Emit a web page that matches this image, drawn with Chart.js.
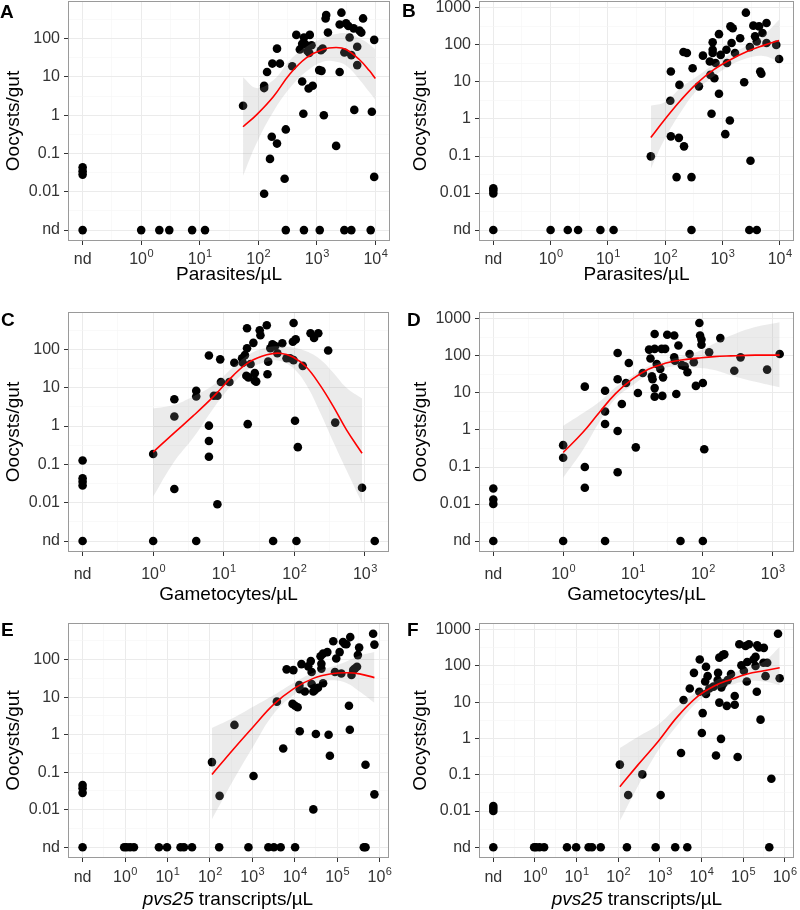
<!DOCTYPE html>
<html>
<head>
<meta charset="utf-8">
<script src="https://cdn.jsdelivr.net/npm/chart.js@4.4.0/dist/chart.umd.min.js"></script>
<style>
  body { margin: 0; width: 800px; height: 910px; position: relative; background: #fff; overflow: hidden;
         font-family: "Liberation Sans", Arial, sans-serif; }
  .panel { position: absolute; }
  .tag { position: absolute; font-weight: bold; font-size: 19px; line-height: 19px; color: #000; }
  .xtitle { position: absolute; width: 400px; text-align: center; font-size: 19px; line-height: 22px; color: #000; }
</style>
</head>
<body>
<canvas id="cA" class="panel" width="400" height="300" style="left:0;top:0"></canvas>
<canvas id="cB" class="panel" width="400" height="300" style="left:400px;top:0"></canvas>
<canvas id="cC" class="panel" width="400" height="310" style="left:0;top:300px"></canvas>
<canvas id="cD" class="panel" width="400" height="310" style="left:400px;top:300px"></canvas>
<canvas id="cE" class="panel" width="400" height="300" style="left:0;top:610px"></canvas>
<canvas id="cF" class="panel" width="400" height="300" style="left:400px;top:610px"></canvas>

<div class="tag" style="left:0;top:2px">A</div>
<div class="tag" style="left:402px;top:1px">B</div>
<div class="tag" style="left:1px;top:310px">C</div>
<div class="tag" style="left:407px;top:310px">D</div>
<div class="tag" style="left:1px;top:620px">E</div>
<div class="tag" style="left:407px;top:620px">F</div>

<div class="xtitle" style="left:28px;top:888px"><i>pvs25</i> transcripts/µL</div>
<div class="xtitle" style="left:437px;top:888px"><i>pvs25</i> transcripts/µL</div>

<script>
// all values are log10; null = not detected ("nd")
const ND_X = -1;
const ND_Y = -3;

// ---------------- A: parasites vs oocysts (set 1) ----------------
const aX = [1.74, 2.10, 2.10, 2.10, 2.15, 2.20, 2.23, 2.24, 2.32, 2.32, 2.37, 2.45, 2.47, 2.58, 2.65,
            2.71, 2.75, 2.78, 2.80, 2.84, 2.88, 2.91, 2.87, 2.75, 2.77, 2.86, 2.93, 3.07, 3.10, 3.04,
            3.08, 3.12, 3.15, 3.16, 3.19, 3.33, 3.39, 3.42, 3.39, 3.47, 3.50, 3.54, 3.56, 3.59, 3.64,
            3.63, 3.69, 3.69, 3.73, 3.76, 3.79, 3.94, 3.98, 3.98];
const aY = [0.25, -2.05, 0.77, 0.71, 1.13, -1.14, -0.56, 1.35, 1.74, -0.74, 1.35, -1.66, -0.37, 1.28, 2.10,
            1.72, 1.87, 2.03, 1.86, 1.68, 2.10, 1.83, 1.63, 0.88, 0.04, 0.70, 0.77, 1.70, 1.74, 1.18,
            1.16, 0.00, 2.53, 2.62, 2.16, -0.80, 1.13, 2.68, 2.37, 1.64, 2.40, 2.33, 2.03, 1.57, 0.14,
            2.27, 1.79, 1.31, 2.21, 2.16, 2.53, 0.09, -1.61, 1.97];
const aNdRow = [null, 0, 0.31, 0.48, 0.87, 1.09, 2.47, 2.78, 3.05, 3.47, 3.59, 3.92];
const aNdCol = [-1.36, -1.46, -1.55];
const aFitX = [1.74, 1.97, 2.26, 2.54, 2.82, 3.10, 3.33, 3.50, 3.73, 3.90, 4.00];
const aFitY = [-0.30, 0.01, 0.49, 1.08, 1.50, 1.72, 1.77, 1.72, 1.45, 1.16, 0.96];
const aBandHi = [0.99, 0.71, 0.92, 1.44, 1.79, 2.01, 2.12, 2.14, 2.01, 1.85, 1.72];
const aBandLo = [-1.58, -0.73, 0.10, 0.71, 1.14, 1.40, 1.40, 1.30, 0.93, 0.60, 0.40];

// ---------------- B: parasites vs oocysts (set 2) ----------------
const bX = [1.75, 2.10, 2.09, 2.10, 2.24, 2.25, 2.32, 2.38, 2.33, 2.20, 2.46, 2.48, 2.59, 2.66, 2.78,
            2.79, 2.81, 2.83, 2.83, 2.83, 2.86, 2.88, 2.94, 2.94, 2.97, 3.07, 3.08, 3.13, 3.05, 3.14,
            3.16, 3.18, 3.22, 3.31, 3.38, 3.41, 3.48, 3.54, 3.57, 3.60, 3.64, 3.70, 3.66, 3.68, 3.77,
            3.77, 3.94, 3.99, 3.49];
const bY = [-1.01, 1.28, 0.49, -0.47, -0.51, 0.92, 1.81, 1.78, -0.74, -1.57, -1.57, 1.37, 0.88, 1.71, 1.55,
            1.19, 0.14, 2.07, 1.87, 1.78, 1.10, 1.51, 2.29, 0.68, 1.73, 1.87, 1.51, -0.04, -0.41, 2.50,
            2.05, 2.45, 1.78, 2.18, 0.99, 2.87, 1.94, 2.52, 2.23, 2.09, 2.50, 2.32, 1.28, 1.22, 2.59,
            2.05, 2.00, 1.62, -1.13];
const bNdRow = [null, 0, 0.30, 0.48, 0.87, 1.10, 2.46, 3.47, 3.60];
const bNdCol = [-1.87, -1.93, -2.01];
const bFitX = [1.75, 1.99, 2.28, 2.56, 2.85, 3.14, 3.43, 3.71, 3.99];
const bFitY = [-0.50, -0.02, 0.52, 0.97, 1.33, 1.60, 1.82, 1.98, 2.12];
const bBandHi = [0.36, 0.45, 0.85, 1.15, 1.48, 1.75, 1.98, 2.25, 2.68];
const bBandLo = [-1.35, -0.55, 0.20, 0.78, 1.15, 1.45, 1.64, 1.70, 1.55];

// ---------------- C: gametocytes vs oocysts (set 1) ----------------
const cX = [0, 0.30, 0.30, 0.30, 0.61, 0.61, 0.79, 0.79, 0.79, 0.79, 0.86, 0.91, 0.95, 0.96, 0.91,
            1.08, 1.15, 1.26, 1.27, 1.30, 1.32, 1.33, 1.33, 1.34, 1.35, 1.38, 1.42, 1.44, 1.44, 1.46,
            1.51, 1.52, 1.61, 1.62, 1.63, 1.66, 1.69, 1.73, 1.76, 1.83, 1.89, 1.94, 1.98, 1.99, 1.99,
            2.01, 2.02, 2.05, 2.12, 2.23, 2.28, 2.34, 2.48, 2.58, 2.96];
const cY = [-0.73, 0.70, 0.25, -1.64, 0.92, 0.77, 1.84, 0.01, -0.39, -0.80, 0.79, 0.79, 1.74, 1.15, -2.04,
            1.15, 1.65, 1.77, 1.65, 1.85, 1.31, 2.55, 2.03, 0.05, 1.27, 1.62, 2.17, 1.38, 1.18, 1.16,
            2.50, 2.37, 2.63, 1.35, 1.68, 2.03, 2.13, 2.09, 1.90, 2.16, 1.77, 1.77, 2.20, 2.69, 1.72,
            0.14, 2.26, -0.55, 1.57, 2.42, 2.30, 2.42, 1.97, 0.09, -1.61];
const cNdRow = [null, 0, 0.61, 1.70, 2.03, 3.14];
const cNdCol = [-0.90, -1.36, -1.45, -1.55];
const cFitX = [0, 0.29, 0.57, 0.86, 1.14, 1.37, 1.61, 1.80, 1.98, 2.17, 2.36, 2.55, 2.74, 2.96];
const cFitY = [-0.68, -0.19, 0.27, 0.78, 1.33, 1.68, 1.86, 1.90, 1.80, 1.54, 1.08, 0.52, -0.10, -0.71];
const cBandHi = [0.46, 0.55, 0.78, 1.08, 1.55, 1.88, 2.05, 2.08, 2.05, 1.95, 1.75, 1.40, 1.00, 0.72];
const cBandLo = [-1.84, -0.95, -0.30, 0.48, 1.12, 1.50, 1.68, 1.70, 1.52, 1.08, 0.38, -0.40, -1.15, -2.01];

// ---------------- D: gametocytes vs oocysts (set 2) ----------------
const dX = [0, 0, 0.31, 0.31, 0.31, 0.60, 0.60, 0.60, 0.78, 0.78, 0.78, 0.78, 0.84, 0.90, 0.94,
            1.04, 1.07, 1.14, 1.23, 1.25, 1.27, 1.28, 1.31, 1.31, 1.31, 1.31, 1.34, 1.39, 1.41, 1.42,
            1.43, 1.46, 1.49, 1.59, 1.59, 1.60, 1.62, 1.65, 1.70, 1.74, 1.78, 1.81, 1.87, 1.90, 1.95,
            1.96, 1.98, 1.98, 2.00, 2.02, 2.09, 2.25, 2.45, 2.54, 2.92, 3.10];
const dY = [-0.41, -0.75, 1.17, -1.00, -1.56, 1.06, 0.50, 0.16, 2.08, 1.37, -0.03, -1.14, 0.70, 1.27, 1.81,
            -0.47, 1.00, 1.54, 2.17, 1.93, 1.45, 1.37, 2.19, 2.59, 1.13, 0.90, 1.78, 1.65, 2.19, 0.92,
            1.42, 2.19, 2.57, 2.55, 1.96, 1.87, 0.97, 2.28, 1.75, 1.72, 1.56, 2.05, 1.83, 1.19, 2.89,
            2.55, 2.44, 2.30, 1.27, -0.52, 2.10, 2.48, 1.60, 1.96, 1.63, 2.05];
const dNdRow = [null, 0, 0.60, 1.68, 2.00];
const dNdCol = [-1.58, -1.88, -2.00];
const dFitX = [0, 0.28, 0.52, 0.75, 0.99, 1.22, 1.46, 1.69, 1.93, 2.16, 2.40, 2.75, 3.10];
const dFitY = [-0.61, -0.07, 0.48, 0.98, 1.37, 1.64, 1.80, 1.89, 1.94, 1.98, 2.00, 2.02, 2.02];
const dBandHi = [0.11, 0.45, 0.76, 1.15, 1.46, 1.72, 1.87, 1.98, 2.12, 2.33, 2.55, 2.78, 2.91];
const dBandLo = [-1.29, -0.55, 0.22, 0.85, 1.20, 1.50, 1.68, 1.72, 1.68, 1.62, 1.48, 1.30, 1.15];

// ---------------- E: pvs25 vs oocysts (set 1) ----------------
const eX = [2.05, 2.23, 2.58, 3.03, 3.58, 3.73, 3.81, 3.97, 3.95, 4.01, 4.07, 4.11, 4.12, 4.12, 4.16,
            4.24, 4.32, 4.38, 4.40, 4.40, 4.44, 4.44, 4.48, 4.50, 4.55, 4.61, 4.63, 4.63, 4.67, 4.67,
            4.77, 4.80, 4.83, 4.91, 4.95, 4.98, 5.06, 5.10, 5.14, 5.18, 5.22, 5.28, 5.30, 5.31, 5.34,
            5.38, 5.42, 5.47, 5.49, 5.52, 5.67, 5.85, 5.88, 5.88];
const eY = [-0.73, -1.63, 0.26, -1.10, 0.88, -0.37, 1.74, 1.72, 0.82, 0.77, 0.73, 1.32, 0.09, 1.21, 1.88,
            1.15, 1.82, 1.96, 1.67, 1.35, 1.15, -1.99, 1.19, 0.02, 1.25, 2.09, 1.89, 1.76, 2.16, 1.37,
            2.20, 0.00, -0.56, 2.49, 1.67, 2.03, 2.20, 1.63, 2.47, 2.42, 2.41, 0.77, 0.13, 2.60, 1.59,
            1.72, 1.76, 1.81, 2.12, 2.32, -0.80, 2.69, 2.40, -1.59];
const eNdRow = [null, -0.02, 0.04, 0.12, 0.21, 0.80, 0.99, 1.31, 1.39, 1.58, 2.22, 2.91, 3.38, 3.51, 3.67,
                4.01, 5.63, 5.67];
const eNdCol = [-1.34, -1.43, -1.55];
const eFitX = [2.05, 2.56, 3.03, 3.50, 3.97, 4.44, 4.91, 5.22, 5.53, 5.88];
const eFitY = [-1.06, -0.38, 0.22, 0.80, 1.22, 1.50, 1.63, 1.65, 1.62, 1.52];
const eBandHi = [0.18, 0.45, 0.75, 1.05, 1.38, 1.65, 1.82, 1.95, 2.10, 2.20];
const eBandLo = [-2.25, -1.20, -0.30, 0.55, 1.05, 1.35, 1.45, 1.38, 1.15, 0.85];

// ---------------- F: pvs25 vs oocysts (set 2) ----------------
const fX = [2.04, 2.24, 2.58, 3.02, 3.51, 3.57, 3.72, 3.82, 3.95, 3.96, 4.01, 4.03, 4.11, 4.09, 4.15,
            4.11, 4.19, 4.29, 4.35, 4.39, 4.40, 4.43, 4.47, 4.48, 4.53, 4.61, 4.63, 4.43, 4.51, 4.55,
            4.71, 4.80, 4.80, 4.87, 4.91, 4.96, 5.02, 5.06, 5.09, 5.10, 5.14, 5.25, 5.30, 5.30, 5.33,
            5.34, 5.38, 5.42, 5.49, 5.50, 5.54, 5.58, 5.68, 5.84, 5.88];
const fY = [-0.72, -1.56, -0.99, -1.56, -0.40, 1.06, 1.38, 1.81, 1.29, 2.18, 0.15, 0.70, 1.98, 1.57, 1.72,
            1.23, 1.38, 1.43, -0.47, 1.61, 1.81, 0.99, -0.01, 1.41, 1.52, 0.90, 1.61, 2.23, 2.30, 2.32,
            1.78, 1.17, 0.93, -0.51, 2.60, 2.02, 1.87, 2.55, 1.57, 2.11, 2.60, 2.18, 2.25, 2.00, 1.29,
            2.57, 2.51, 0.52, 2.09, 2.50, 1.72, 2.09, -1.11, 2.89, 1.66];
const fNdRow = [null, -0.02, 0.03, 0.11, 0.22, 0.77, 0.99, 1.29, 1.37, 1.58, 2.21, 2.90, 3.37, 3.66, 5.63];
const fNdCol = [-1.86, -1.93, -2.00];
const fFitX = [2.04, 2.48, 2.96, 3.43, 3.91, 4.31, 4.71, 5.10, 5.50, 5.88];
const fFitY = [-1.33, -0.72, -0.08, 0.61, 1.16, 1.45, 1.63, 1.78, 1.87, 1.95];
const fBandHi = [-0.26, 0.05, 0.38, 0.88, 1.30, 1.58, 1.78, 1.95, 2.12, 2.52];
const fBandLo = [-2.27, -1.30, -0.33, 0.38, 1.02, 1.32, 1.48, 1.58, 1.57, 1.47];

// ---------------- AXES ----------------
const Y_LABELS = { '-3': 'nd', '-2': '0.01', '-1': '0.1', '0': '1', '1': '10', '2': '100', '3': '1000' };
const FONT = '"Liberation Sans", Arial, sans-serif';
const TICK_SIZE = 16;

const panels = [
    { canvas: 'cA', xTitle: 'Parasites/µL', x: aX, y: aY, ndRow: aNdRow, ndCol: aNdCol,
      fitX: aFitX, fitY: aFitY, hi: aBandHi, lo: aBandLo,
      xMin: -1.25, xMax: 4.25, yMin: -3.285, yMax: 2.985,
      area: { left: 68, right: 390, top: 1, bottom: 241 }, yPad: 2.6, xPad: 14, labelBase: 23 },
    { canvas: 'cB', xTitle: 'Parasites/µL', x: bX, y: bY, ndRow: bNdRow, ndCol: bNdCol,
      fitX: bFitX, fitY: bFitY, hi: bBandHi, lo: bBandLo,
      xMin: -1.25, xMax: 4.25, yMin: -3.295, yMax: 3.185,
      area: { left: 79, right: 394, top: 1, bottom: 241 }, yPad: 9.6, xPad: 14, labelBase: 23 },
    { canvas: 'cC', xTitle: 'Gametocytes/µL', x: cX, y: cY, ndRow: cNdRow, ndCol: cNdCol,
      fitX: cFitX, fitY: cFitY, hi: cBandHi, lo: cBandLo,
      xMin: -1.207, xMax: 3.342, yMin: -3.285, yMax: 2.975,
      area: { left: 68, right: 389, top: 12, bottom: 252 }, yPad: 2.6, xPad: 4, labelBase: 27 },
    { canvas: 'cD', xTitle: 'Gametocytes/µL', x: dX, y: dY, ndRow: dNdRow, ndCol: dNdCol,
      fitX: dFitX, fitY: dFitY, hi: dBandHi, lo: dBandLo,
      xMin: -1.205, xMax: 3.305, yMin: -3.295, yMax: 3.185,
      area: { left: 79, right: 394, top: 12, bottom: 252 }, yPad: 9.6, xPad: 4, labelBase: 27 },
    { canvas: 'cE', xTitle: '', x: eX, y: eY, ndRow: eNdRow, ndCol: eNdCol,
      fitX: eFitX, fitY: eFitY, hi: eBandHi, lo: eBandLo,
      xMin: -1.344, xMax: 6.224, yMin: -3.285, yMax: 2.975,
      area: { left: 68, right: 389, top: 13, bottom: 248 }, yPad: 2.6, xPad: 0, labelBase: 24 },
    { canvas: 'cF', xTitle: '', x: fX, y: fY, ndRow: fNdRow, ndCol: fNdCol,
      fitX: fFitX, fitY: fFitY, hi: fBandHi, lo: fBandLo,
      xMin: -1.344, xMax: 6.224, yMin: -3.295, yMax: 3.185,
      area: { left: 79, right: 394, top: 13, bottom: 248 }, yPad: 9.6, xPad: 0, labelBase: 24 }
];

// panel frame drawn over the data, like the ggplot border
const panelBorder = {
    id: 'panelBorder',
    afterDatasetsDraw(chart) {
        const { ctx, chartArea: a } = chart;
        ctx.save();
        ctx.strokeStyle = '#9a9a9a';
        ctx.lineWidth = 1;
        ctx.strokeRect(a.left + 0.5, a.top + 0.5, a.width - 1, a.height - 1);
        ctx.restore();
    }
};

// x tick labels "10^n" with a real raised exponent, and "nd"
const powerLabels = {
    id: 'powerLabels',
    afterDraw(chart, args, opts) {
        const { ctx } = chart;
        const s = chart.scales.x;
        const base = chart.chartArea.bottom + opts.base;
        ctx.save();
        ctx.fillStyle = '#333';
        ctx.textBaseline = 'alphabetic';
        for (let v = Math.ceil(s.min); v <= s.max; v++) {
            const px = s.getPixelForValue(v);
            ctx.font = TICK_SIZE + 'px ' + FONT;
            if (v === ND_X) {
                ctx.textAlign = 'center';
                ctx.fillText('nd', px, base);
                continue;
            }
            const w1 = ctx.measureText('10').width;
            ctx.font = '11px ' + FONT;
            const w2 = ctx.measureText(String(v)).width;
            const x0 = px - (w1 + w2) / 2;
            ctx.textAlign = 'left';
            ctx.font = TICK_SIZE + 'px ' + FONT;
            ctx.fillText('10', x0, base);
            ctx.font = '11px ' + FONT;
            ctx.fillText(String(v), x0 + w1 + 0.5, base - 7);
        }
        ctx.restore();
    }
};

function halfSteps(min, max) {
    const out = [];
    for (let v = Math.ceil(min * 2) / 2; v <= max + 1e-9; v += 0.5) out.push({ value: v });
    return out;
}

const isMajor = c => Number.isInteger(c.tick.value);
const gridOpts = {
    color: c => isMajor(c) ? '#ebebeb' : '#f5f5f5',
    lineWidth: c => isMajor(c) ? 1 : 0.6,
    tickColor: c => isMajor(c) ? '#333' : 'rgba(0,0,0,0)',
    tickLength: 4,
    drawTicks: true
};

function buildPoints(p) {
    const pts = p.x.map((x, i) => ({ x, y: p.y[i] }));
    p.ndRow.forEach(x => pts.push({ x: x === null ? ND_X : x, y: ND_Y }));
    p.ndCol.forEach(y => pts.push({ x: ND_X, y }));
    return pts;
}

const curve = (xs, ys) => xs.map((x, i) => ({ x, y: ys[i] }));

function drawPanel(p) {
    const canvas = document.getElementById(p.canvas);
    const w = canvas.width, h = canvas.height, a = p.area;

    new Chart(canvas.getContext('2d'), {
        type: 'scatter',
        data: {
            datasets: [
                { type: 'line', data: curve(p.fitX, p.fitY), borderColor: '#ff0000', borderWidth: 1.6,
                  pointRadius: 0, fill: false, tension: 0.4, order: 0 },
                { type: 'line', data: curve(p.fitX, p.hi), borderWidth: 0, borderColor: 'rgba(0,0,0,0)',
                  pointRadius: 0, fill: '+1', backgroundColor: 'rgba(153,153,153,0.2)', tension: 0.4, order: 1 },
                { type: 'line', data: curve(p.fitX, p.lo), borderWidth: 0, borderColor: 'rgba(0,0,0,0)',
                  pointRadius: 0, fill: false, tension: 0.4, order: 2 },
                { data: buildPoints(p), pointRadius: 4.3, backgroundColor: '#000', borderColor: '#000',
                  pointBorderWidth: 0, order: 3 }
            ]
        },
        options: {
            responsive: false,
            animation: false,
            devicePixelRatio: 1,
            layout: { autoPadding: false, padding: { left: 0, right: w - a.right, top: a.top, bottom: 0 } },
            plugins: {
                legend: { display: false },
                tooltip: { enabled: false },
                powerLabels: { base: p.labelBase }
            },
            scales: {
                x: {
                    type: 'linear', min: p.xMin, max: p.xMax,
                    afterBuildTicks: s => { s.ticks = halfSteps(p.xMin, p.xMax); },
                    afterFit: s => { s.height = h - a.bottom; s.paddingLeft = 0; s.paddingRight = 0; },
                    grid: gridOpts,
                    border: { display: false },
                    ticks: { display: false, autoSkip: false },
                    title: { display: !!p.xTitle, text: p.xTitle, color: '#000',
                             font: { size: 19, family: FONT }, padding: { top: 0, bottom: p.xPad } }
                },
                y: {
                    type: 'linear', min: p.yMin, max: p.yMax,
                    afterBuildTicks: s => { s.ticks = halfSteps(p.yMin, p.yMax); },
                    afterFit: s => { s.width = a.left; s.paddingTop = 0; s.paddingBottom = 0; },
                    grid: gridOpts,
                    border: { display: false },
                    ticks: {
                        autoSkip: false, padding: 4, color: '#333',
                        font: { size: TICK_SIZE, family: FONT },
                        callback: v => Number.isInteger(v) ? Y_LABELS[v] : ''
                    },
                    title: { display: true, text: 'Oocysts/gut', color: '#000',
                             font: { size: 19, family: FONT }, padding: { top: p.yPad, bottom: 0 } }
                }
            }
        },
        plugins: [panelBorder, powerLabels]
    });
}

panels.forEach(drawPanel);
</script>
</body>
</html>
